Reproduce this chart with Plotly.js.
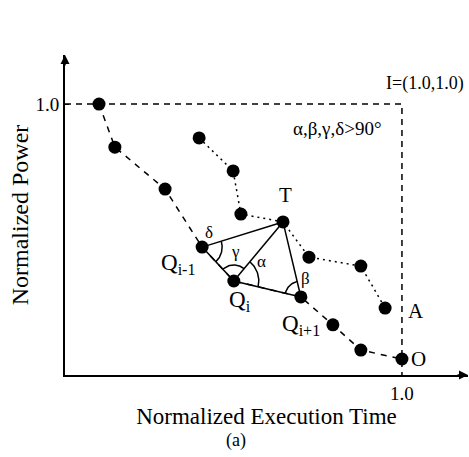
<!DOCTYPE html>
<html>
<head>
<meta charset="utf-8">
<script src="https://cdn.plot.ly/plotly-3.0.1.min.js"></script>
<style>html,body{margin:0;padding:0;background:#fff;}#chart{width:469px;height:457px;}</style>
</head>
<body>
<div id="chart"></div>
<script>
// Pareto front (dashed) and a second set of solutions (dotted)
const frontX = [0.101, 0.148, 0.297, 0.407, 0.501, 0.700, 0.795, 0.878, 1.0];
const frontY = [1.0, 0.841, 0.686, 0.472, 0.347, 0.288, 0.185, 0.092, 0.059];
const otherX = [0.398, 0.499, 0.522, 0.647, 0.724, 0.878, 0.950];
const otherY = [0.875, 0.753, 0.594, 0.565, 0.435, 0.402, 0.247];
// ideal point I
const idealX = 1.0, idealY = 1.0;
const xTickVals = [1.0], xTickText = ['1.0'];
const yTickVals = [1.0], yTickText = ['1.0'];
const xMax = 1.196, yMax = 1.181;

const W = 469, H = 457;
const M = {l: 65, r: 1, t: 55, b: 82};
const sx = (W - M.l - M.r) / xMax;   // px per unit x
const sy = (H - M.t - M.b) / yMax;   // px per unit y

const Qm = [frontX[3], frontY[3]];
const Qi = [frontX[4], frontY[4]];
const Qp = [frontX[5], frontY[5]];
const T  = [otherX[3], otherY[3]];

function ang(from, to) {
  return Math.atan2((to[1] - from[1]) * sy, (to[0] - from[0]) * sx);
}
function arc(c, a1, a2, r) {
  const xs = [], ys = [];
  const n = 30;
  for (let k = 0; k <= n; k++) {
    const t = a1 + (a2 - a1) * k / n;
    xs.push(c[0] + r * Math.cos(t) / sx);
    ys.push(c[1] + r * Math.sin(t) / sy);
  }
  return {x: xs, y: ys};
}
const arcs = [
  arc(Qm, ang(Qm, Qi), ang(Qm, T), 20),   // delta
  arc(Qi, ang(Qi, T), ang(Qi, Qm), 16),   // gamma
  arc(Qi, ang(Qi, Qp), ang(Qi, T), 25),   // alpha
  arc(Qp, ang(Qp, T), ang(Qp, Qi), 16)    // beta
];

const FONT = 'Liberation Serif';
const traces = [];
// ideal-point dashed box
traces.push({x: [0, idealX, idealX], y: [idealY, idealY, 0], mode: 'lines',
  line: {color: '#000', width: 1.5, dash: '6px,5px'}, hoverinfo: 'skip'});
// front
traces.push({x: frontX, y: frontY, mode: 'lines+markers',
  line: {color: '#000', width: 1.5, dash: '6px,6px'},
  marker: {color: '#000', size: 13}, cliponaxis: false});
// other
traces.push({x: otherX, y: otherY, mode: 'lines+markers',
  line: {color: '#000', width: 1.5, dash: '2px,4px'},
  marker: {color: '#000', size: 13}, cliponaxis: false});
// triangle
traces.push({x: [Qm[0], T[0], Qp[0], Qi[0], Qm[0]], y: [Qm[1], T[1], Qp[1], Qi[1], Qm[1]],
  mode: 'lines', line: {color: '#000', width: 1.5}});
traces.push({x: [Qi[0], T[0]], y: [Qi[1], T[1]], mode: 'lines', line: {color: '#000', width: 1.5}});
arcs.forEach(a => traces.push({x: a.x, y: a.y, mode: 'lines', line: {color: '#000', width: 1.5}}));

const lbl = (text, p, xs, ys, size, xanchor) => ({
  x: p[0], y: p[1], text: text, showarrow: false, xshift: xs, yshift: ys,
  xanchor: xanchor || 'center', yanchor: 'middle',
  font: {family: FONT, size: size, color: '#000'}
});

const annotations = [
  lbl('T', T, 2, 27, 21),
  lbl('δ', Qm, 7, 15, 17),
  lbl('γ', Qi, 2, 29, 17),
  lbl('α', Qi, 28, 19, 17),
  lbl('β', Qp, 5, 18, 17),
  lbl('Q<sub>i-1</sub>', Qm, -4, -17, 23, 'right'),
  lbl('Q<sub>i</sub>', Qi, 6, -20, 23),
  lbl('Q<sub>i+1</sub>', Qp, 0, -28, 23),
  lbl('A', [otherX[6], otherY[6]], 31, -3, 21),
  lbl('O', [frontX[8], frontY[8]], 17, 0, 21),
  lbl('I=(1.0,1.0)', [idealX, idealY], 64, 21, 18, 'right'),
  lbl('α,β,γ,δ>90°', [idealX, idealY], -64, -24, 19),
  {xref: 'paper', yref: 'paper', x: 0.425, y: -0.205, yanchor: 'middle', text: '(a)', showarrow: false,
   font: {family: FONT, size: 18, color: '#000'}},
  // axis arrowheads
  {x: xMax, y: 0, ax: -12, ay: 0, showarrow: true, arrowhead: 2, arrowsize: 1.2, arrowwidth: 1.5, text: '', arrowcolor: '#000'},
  {x: 0, y: yMax, ax: 0, ay: 12, showarrow: true, arrowhead: 2, arrowsize: 1.2, arrowwidth: 1.5, text: '', arrowcolor: '#000'}
];

const layout = {
  width: W, height: H,
  margin: M,
  paper_bgcolor: '#fff', plot_bgcolor: '#fff',
  showlegend: false,
  font: {family: FONT, color: '#000'},
  xaxis: {range: [0, xMax], showgrid: false, zeroline: false, showline: true,
    linecolor: '#000', linewidth: 2, tickvals: xTickVals, ticktext: xTickText,
    ticks: '', tickfont: {family: FONT, size: 19, color: '#000'},
    title: {text: 'Normalized Execution Time', font: {family: FONT, size: 23, color: '#000'}, standoff: 0}},
  yaxis: {range: [0, yMax], showgrid: false, zeroline: false, showline: true,
    linecolor: '#000', linewidth: 2, tickvals: yTickVals, ticktext: yTickText,
    ticks: 'inside', ticklen: 4, tickcolor: '#000', tickfont: {family: FONT, size: 19, color: '#000'},
    title: {text: 'Normalized Power', font: {family: FONT, size: 24, color: '#000'}, standoff: 0}},
  annotations: annotations
};

Plotly.newPlot('chart', traces, layout, {staticPlot: true, displayModeBar: false});
</script>
</body>
</html>
